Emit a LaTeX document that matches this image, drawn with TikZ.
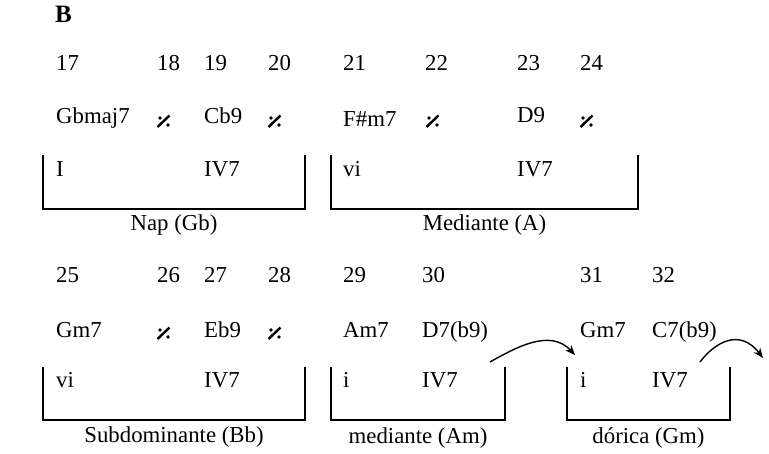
\documentclass[tikz,border=0pt]{standalone}
\usepackage{fontspec}
\setmainfont{Liberation Serif}
\usetikzlibrary{arrows.meta}
\tikzset{
  txt/.style={anchor=base west, inner sep=0pt, font=\fontsize{22.8}{27}\selectfont},
  lbl/.style={anchor=base, inner sep=0pt, font=\fontsize{22.8}{27}\selectfont},
  brk/.style={line width=2pt},
  arr/.style={line width=1.4pt, -{Stealth[length=10pt,width=8pt]}},
  simile/.pic={
    \draw[line width=2.4pt] (0.5,12) -- (12.5,0.5);
    \fill (3,3) circle[radius=1.9pt];
    \fill (11,10) circle[radius=1.9pt];
  }
}
\begin{document}
\begin{tikzpicture}[x=1pt,y=-1pt]
\useasboundingbox (0,0) rectangle (769,453);
\node[txt, font=\fontsize{25}{30}\selectfont\bfseries] (B) at (55,22) {B};
% top row numbers
\node[txt] (n17) at (56,70) {17};
\node[txt] (n18) at (157,70) {18};
\node[txt] (n19) at (204,70) {19};
\node[txt] (n20) at (268,70) {20};
\node[txt] (n21) at (343,70) {21};
\node[txt] (n22) at (425,70) {22};
\node[txt] (n23) at (517,70) {23};
\node[txt] (n24) at (580,70) {24};
% top chords
\node[txt] (c17) at (56,123) {Gbmaj7};
\pic at (157,115) {simile};
\node[txt] (c19) at (204,123) {Cb9};
\pic at (268,115) {simile};
\node[txt] (c21) at (343,126) {F\#m7};
\pic at (426,115) {simile};
\node[txt] (c23) at (517,122) {D9};
\pic at (580,115) {simile};
% top roman
\node[txt] (r17) at (56,176) {I};
\node[txt] (r19) at (204,176) {IV7};
\node[txt] (r21) at (343,176) {vi};
\node[txt] (r23) at (517,176) {IV7};
% top brackets
\draw[brk] (43,155) |- (305,209) -- (305,155);
\draw[brk] (331,155) |- (638,209) -- (638,155);
\node[lbl] (l1) at (174,230) {Nap (Gb)};
\node[lbl] (l2) at (484.5,230) {Mediante (A)};
% bottom row numbers
\node[txt] (n25) at (56,282) {25};
\node[txt] (n26) at (157,282) {26};
\node[txt] (n27) at (204,282) {27};
\node[txt] (n28) at (268,282) {28};
\node[txt] (n29) at (343,282) {29};
\node[txt] (n30) at (422,282) {30};
\node[txt] (n31) at (580,282) {31};
\node[txt] (n32) at (652,282) {32};
% bottom chords
\node[txt] (c25) at (56,337) {Gm7};
\pic at (157,327) {simile};
\node[txt] (c27) at (204,337) {Eb9};
\pic at (268,327) {simile};
\node[txt] (c29) at (343,337) {Am7};
\node[txt] (c30) at (422,337) {D7(b9)};
\node[txt] (c31) at (580,337) {Gm7};
\node[txt] (c32) at (652,337) {C7(b9)};
% bottom roman
\node[txt] (r25) at (56,387) {vi};
\node[txt] (r27) at (204,387) {IV7};
\node[txt] (r29) at (343,387) {i};
\node[txt] (r30) at (422,387) {IV7};
\node[txt] (r31) at (580,387) {i};
\node[txt] (r32) at (652,387) {IV7};
% bottom brackets
\draw[brk] (43,367) |- (305,420) -- (305,367);
\draw[brk] (331,367) |- (505,420) -- (505,367);
\draw[brk] (567,367) |- (730,420) -- (730,367);
\node[lbl] (l3) at (174,442) {Subdominante (Bb)};
\node[lbl] (l4) at (418,443) {mediante (Am)};
\node[lbl] (l5) at (648.5,443) {dórica (Gm)};
% arrows
\coordinate (a1s) at (490,362);
\coordinate (a1e) at (575,355);
\coordinate (a2s) at (700,362);
\coordinate (a2e) at (763,358);
\draw[arr] (a1s) .. controls (515,348) and (550,328) .. (a1e);
\draw[arr] (a2s) .. controls (715,342) and (740,328) .. (a2e);
\end{tikzpicture}
\end{document}
